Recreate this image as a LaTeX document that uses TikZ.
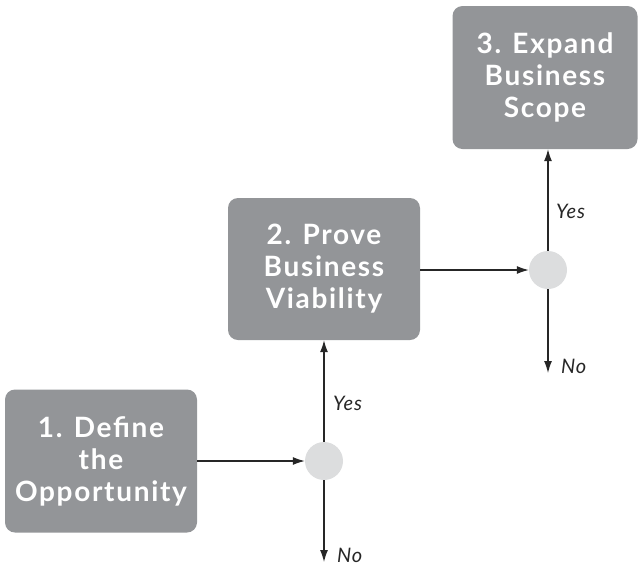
\documentclass[tikz,border=0pt]{standalone}
\usepackage{fontspec}
\setmainfont{Lato}
\newfontfamily\boxfont[LetterSpace=6]{Lato}
\newfontfamily\labelfont[LetterSpace=4]{Lato}
\usetikzlibrary{arrows.meta}
\definecolor{boxgray}{HTML}{939598}
\definecolor{dotgray}{HTML}{DCDDDE}
\tikzset{
  stagebox/.style={draw=none, fill=boxgray, rounded corners=10pt, text=white,
    font=\boxfont\fontsize{28}{32}\selectfont\bfseries, align=center, inner sep=0pt},
  decision/.style={circle, fill=dotgray, draw=none, minimum size=38pt, inner sep=0pt},
  conn/.style={line width=1.2pt, draw=black!85, -{Latex[length=12pt,width=8pt]}},
  lbl/.style={font=\labelfont\fontsize{20}{24}\selectfont\itshape, anchor=west, inner sep=0pt, text=black!85}
}
\begin{document}
\begin{tikzpicture}[x=1pt,y=-1pt]
\useasboundingbox (0,0) rectangle (638,566);
\node[stagebox, minimum width=192pt, minimum height=143pt] (s1) at (101,461) {1. Define\\the\\Opportunity};
\node[stagebox, minimum width=192pt, minimum height=142pt] (s2) at (324,269) {2. Prove\\Business\\Viability};
\node[stagebox, minimum width=185pt, minimum height=143pt] (s3) at (545,77.5) {3. Expand\\Business\\Scope};
\node[decision] (d1) at (324,461) {};
\node[decision] (d2) at (548,270) {};
\coordinate (n1) at (324,562);
\coordinate (n2) at (548,373);
\draw[conn] (s1.east) -- (d1.west);
\draw[conn] (s2.east |- d2) -- (d2.west);
\draw[conn] (d1.north) -- (d1 |- s2.south);
\draw[conn] (d2.north) -- (d2 |- s3.south);
\draw[conn] (d1.south) -- (n1);
\draw[conn] (d2.south) -- (n2);
\node[lbl] (y1) at (333,403) {Yes};
\node[lbl] (y2) at (556,211) {Yes};
\node[lbl] (no1) at (337,555) {No};
\node[lbl] (no2) at (561,366) {No};
\end{tikzpicture}
\end{document}
